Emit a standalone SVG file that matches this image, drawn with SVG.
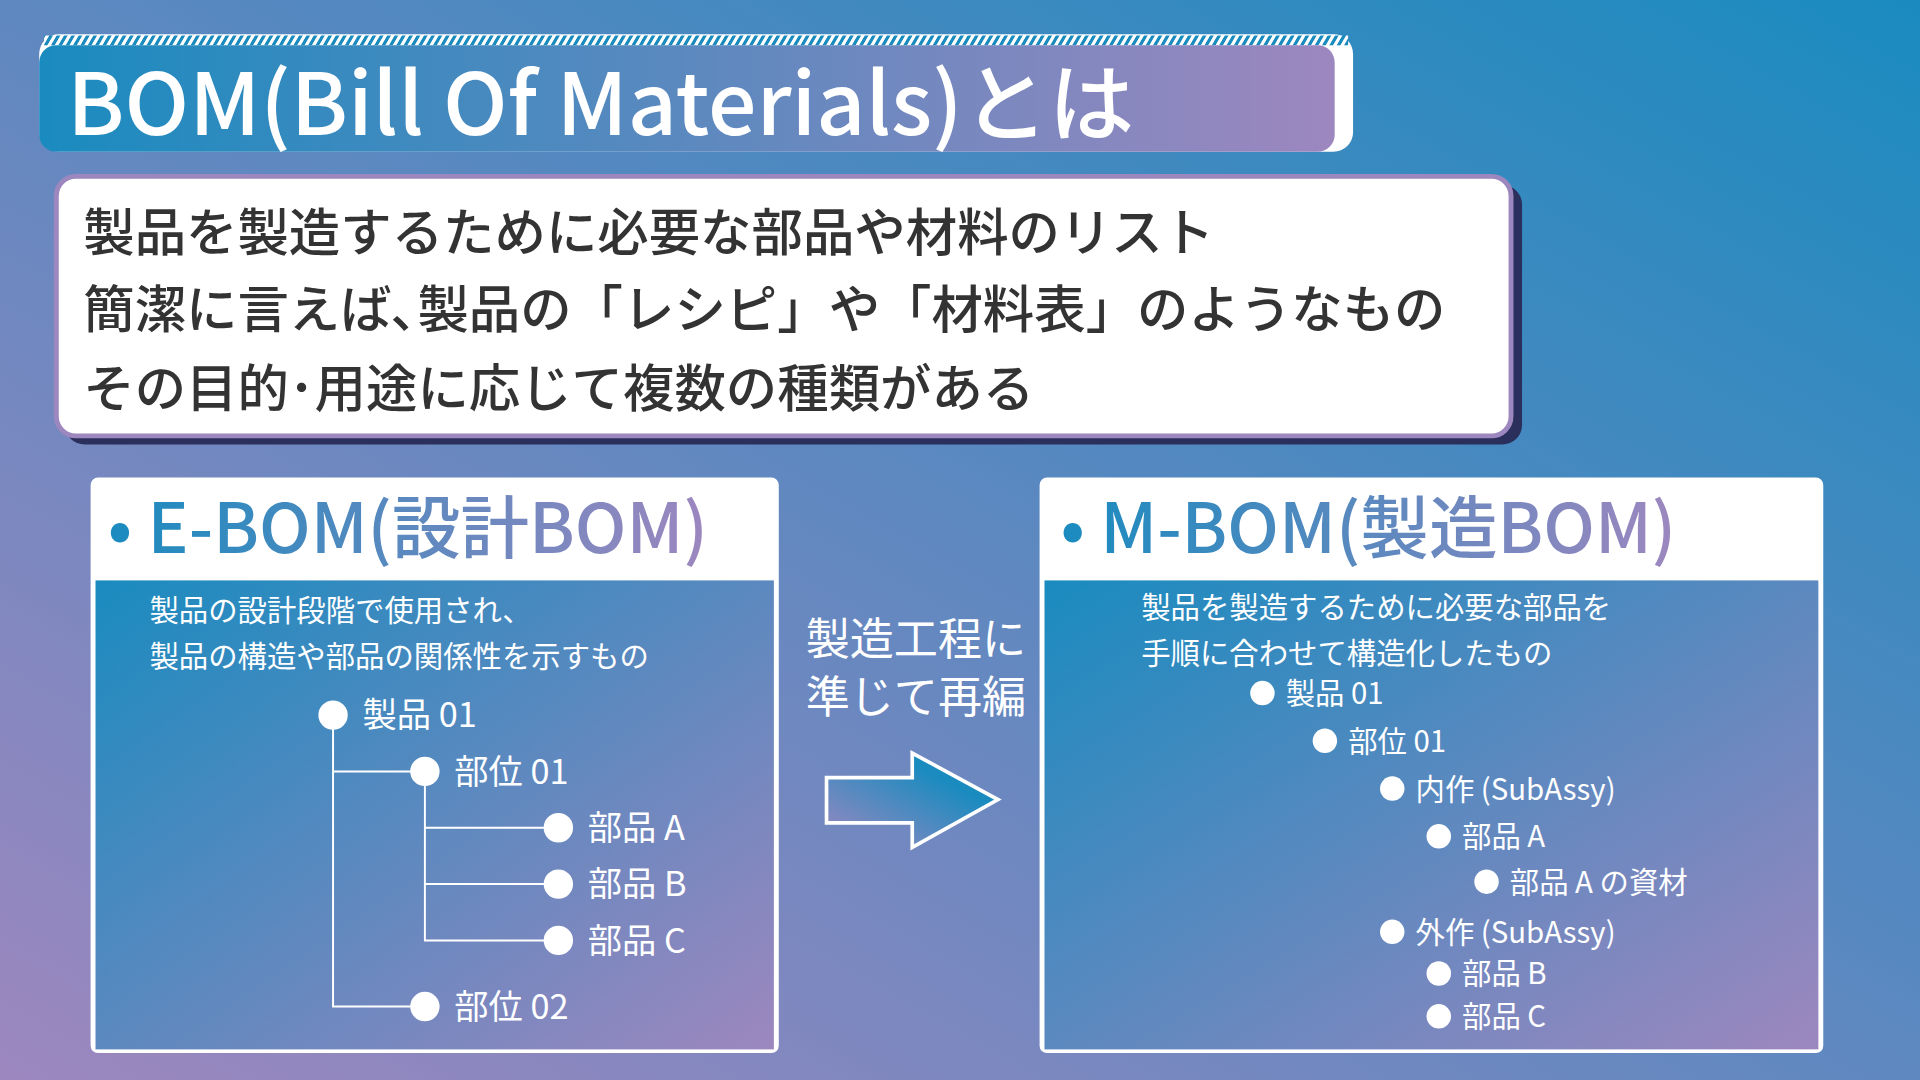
<svg xmlns="http://www.w3.org/2000/svg" width="1920" height="1080" viewBox="0 0 1920 1080">
<defs>
<linearGradient id="bg" x1="1" y1="0" x2="0" y2="1"><stop offset="0" stop-color="#1a8bbf"/><stop offset="0.5" stop-color="#5f88c0"/><stop offset="1" stop-color="#9d87bf"/></linearGradient>
<linearGradient id="hz" x1="0" y1="0" x2="1" y2="0"><stop offset="0" stop-color="#1a8bbf"/><stop offset="1" stop-color="#9d87bf"/></linearGradient>
<linearGradient id="pn" x1="0" y1="0" x2="1" y2="1"><stop offset="0" stop-color="#1a8bbf"/><stop offset="1" stop-color="#9d87bf"/></linearGradient>
<linearGradient id="ar" x1="0" y1="1" x2="1" y2="0"><stop offset="0" stop-color="#a088c0"/><stop offset="0.7" stop-color="#1a8bbf"/></linearGradient>
<pattern id="hatch" width="6" height="8" patternUnits="userSpaceOnUse" patternTransform="skewX(-30)"><rect width="6" height="8" fill="#1a8bbf"/><rect width="3" height="8" fill="#fff"/></pattern>
<style>
.jp{font-family:"Noto Sans CJK JP","Noto Sans",sans-serif}
.w{fill:#fff}
.ln{stroke:#fff;stroke-width:1.6;fill:none}
.nd{fill:#fff}
.t1{font-size:28px;fill:#fff}
.t2{font-size:24px;fill:#fff}
</style>
</defs>
<rect width="1920" height="1080" fill="url(#bg)"/>
<g transform="scale(1.22449)">
<g id="title">
<rect x="32" y="28" width="1073" height="96" rx="16" fill="#fff"/>
<rect x="36" y="29" width="1065" height="8" fill="url(#hatch)"/>
<rect x="32" y="37" width="1058" height="87" rx="14" fill="url(#hz)"/>
<text x="55" y="110" class="jp w" font-size="70" font-weight="500">BOM(Bill Of Materials)とは</text>
</g>
<g id="summary">
<rect x="53" y="151" width="1190" height="212" rx="16" fill="#2b2f5c"/>
<rect x="46" y="144" width="1188" height="212" rx="16" fill="#fff" stroke="#9d87bf" stroke-width="4"/>
<text class="jp" font-size="42" fill="#333" font-weight="500"><tspan x="68" y="205">製品を製造するために必要な部品や材料のリスト</tspan><tspan x="68" y="268">簡潔に言えば､製品の「レシピ」や「材料表」のようなもの</tspan><tspan x="68" y="332">その目的･用途に応じて複数の種類がある</tspan></text>
</g>
<g id="ebom">
<rect x="74" y="390" width="562" height="470" rx="6" fill="#fff"/>
<rect x="78" y="474" width="554" height="383" fill="url(#pn)"/>
<text x="88" y="452" class="jp" font-size="56" fill="url(#hz)" font-weight="500">• E-BOM(設計BOM)</text>
<text class="jp t2" font-size="26"><tspan x="122" y="507">製品の設計段階で使用され、</tspan><tspan x="122" y="545">製品の構造や部品の関係性を示すもの</tspan></text>
</g>
<g id="connectors">
<path class="ln" d="M272 584V822H347M272 630H347M347 630V768H456M347 676H456M347 722H456"/>
<path class="ln" d="M1031 566V605H1082M1082 605V761H1137M1082 644H1137M1137 644V683H1175M1175 683V720H1214M1137 761V830H1175M1137 795H1175"/>
</g>
<g id="ebom-nodes" class="jp">
<circle cx="272" cy="584" r="12" class="nd"/><text x="296" y="594" class="t1">製品 01</text>
<circle cx="347" cy="630" r="12" class="nd"/><text x="371" y="640" class="t1">部位 01</text>
<circle cx="456" cy="676" r="12" class="nd"/><text x="480" y="686" class="t1">部品 A</text>
<circle cx="456" cy="722" r="12" class="nd"/><text x="480" y="732" class="t1">部品 B</text>
<circle cx="456" cy="768" r="12" class="nd"/><text x="480" y="778" class="t1">部品 C</text>
<circle cx="347" cy="822" r="12" class="nd"/><text x="371" y="832" class="t1">部位 02</text>
</g>
<g id="transform">
<text class="jp w" font-size="36"><tspan x="658" y="535">製造工程に</tspan><tspan x="658" y="582">準じて再編</tspan></text>
<polygon points="675,635 745,635 745,615 815,653 745,692 745,672 675,672" fill="url(#ar)" stroke="#fff" stroke-width="3"/>
</g>
<g id="mbom">
<rect x="849" y="390" width="640" height="470" rx="6" fill="#fff"/>
<rect x="853" y="474" width="632" height="383" fill="url(#pn)"/>
<text x="866" y="452" class="jp" font-size="56" fill="url(#hz)" font-weight="500">• M-BOM(製造BOM)</text>
<text class="jp t2" font-size="26"><tspan x="932" y="505">製品を製造するために必要な部品を</tspan><tspan x="932" y="542">手順に合わせて構造化したもの</tspan></text>
</g>
<g id="mbom-nodes" class="jp">
<circle cx="1031" cy="566" r="10" class="nd"/><text x="1050" y="575" class="t2">製品 01</text>
<circle cx="1082" cy="605" r="10" class="nd"/><text x="1101" y="614" class="t2">部位 01</text>
<circle cx="1137" cy="644" r="10" class="nd"/><text x="1156" y="653" class="t2">内作 (SubAssy)</text>
<circle cx="1175" cy="683" r="10" class="nd"/><text x="1194" y="692" class="t2">部品 A</text>
<circle cx="1214" cy="720" r="10" class="nd"/><text x="1233" y="729" class="t2">部品 A の資材</text>
<circle cx="1137" cy="761" r="10" class="nd"/><text x="1156" y="770" class="t2">外作 (SubAssy)</text>
<circle cx="1175" cy="795" r="10" class="nd"/><text x="1194" y="804" class="t2">部品 B</text>
<circle cx="1175" cy="830" r="10" class="nd"/><text x="1194" y="839" class="t2">部品 C</text>
</g>
</g>
</svg>
